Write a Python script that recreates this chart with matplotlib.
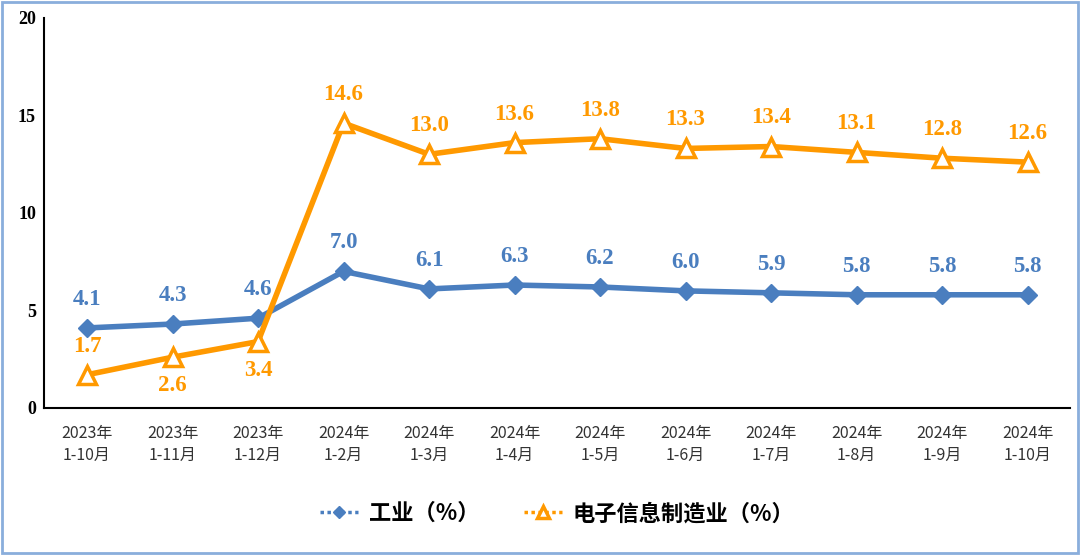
import matplotlib
matplotlib.use('Agg')
import matplotlib.pyplot as plt
from matplotlib.patches import Rectangle
import numpy as np

months = ['2023年\n1-10月', '2023年\n1-11月', '2023年\n1-12月', '2024年\n1-2月',
          '2024年\n1-3月', '2024年\n1-4月', '2024年\n1-5月', '2024年\n1-6月',
          '2024年\n1-7月', '2024年\n1-8月', '2024年\n1-9月', '2024年\n1-10月']
industry = [4.1, 4.3, 4.6, 7.0, 6.1, 6.3, 6.2, 6.0, 5.9, 5.8, 5.8, 5.8]
electronics = [1.7, 2.6, 3.4, 14.6, 13.0, 13.6, 13.8, 13.3, 13.4, 13.1, 12.8, 12.6]
# label below the point for these orange ones
below = [False, True, True] + [False] * 9

blue = '#4A7EBF'
orange = '#FF9900'
cjk = ['Noto Sans CJK SC', 'DejaVu Sans']
serif = 'Liberation Serif'

fig = plt.figure(figsize=(10.8, 5.55), dpi=100)
ax = fig.add_axes([0.041, 0.265, 0.95, 0.703])

x = np.arange(len(months))
ax.plot(x, industry, color=blue, lw=4, marker='D', ms=9, label='工业（%）')
ax.plot(x, electronics, color=orange, lw=4, marker='^', ms=13, mfc='white',
        mec=orange, mew=2.5, label='电子信息制造业（%）')

for i, v in enumerate(industry):
    ax.annotate(f'{v:.1f}', (i, v), xytext=(0, 13), textcoords='offset points',
                ha='center', va='bottom', color=blue, fontsize=16.5,
                fontweight='bold', family=serif)
for i, v in enumerate(electronics):
    off = -13 if below[i] else 13
    ax.annotate(f'{v:.1f}', (i, v), xytext=(0, off), textcoords='offset points',
                ha='center', va='top' if below[i] else 'bottom', color=orange,
                fontsize=16.5, fontweight='bold', family=serif)

ax.set_xlim(-0.5, len(months) - 0.5)
ax.set_ylim(0, 20)
ax.set_yticks([0, 5, 10, 15, 20])
ax.set_yticklabels(['0', '5', '10', '15', '20'], family=serif, fontsize=13,
                   fontweight='bold')
ax.set_xticks(x)
ax.set_xticklabels(months, family=cjk, fontsize=11.5, color='#333333',
                   linespacing=1.4)
ax.tick_params(axis='both', length=0, pad=6)
ax.tick_params(axis='x', pad=12)
for s in ['top', 'right']:
    ax.spines[s].set_visible(False)
ax.spines['left'].set_linewidth(1.5)
ax.spines['bottom'].set_linewidth(1.5)

leg = ax.legend(loc='upper center', bbox_to_anchor=(0.5, -0.19), ncol=2,
                frameon=False, prop={'family': cjk, 'size': 16, 'weight': 'bold'},
                handlelength=1.7, handletextpad=0.5, columnspacing=2.0,
                markerscale=0.7)
for line in leg.get_lines():
    line.set_linewidth(2.5)
    line.set_linestyle((0, (1, 1)))

fig.patches.append(Rectangle((0.002, 0.003), 0.996, 0.994, transform=fig.transFigure,
                             fill=False, edgecolor='#8AAEDC', lw=2))

fig.savefig('out.png', dpi=100)
